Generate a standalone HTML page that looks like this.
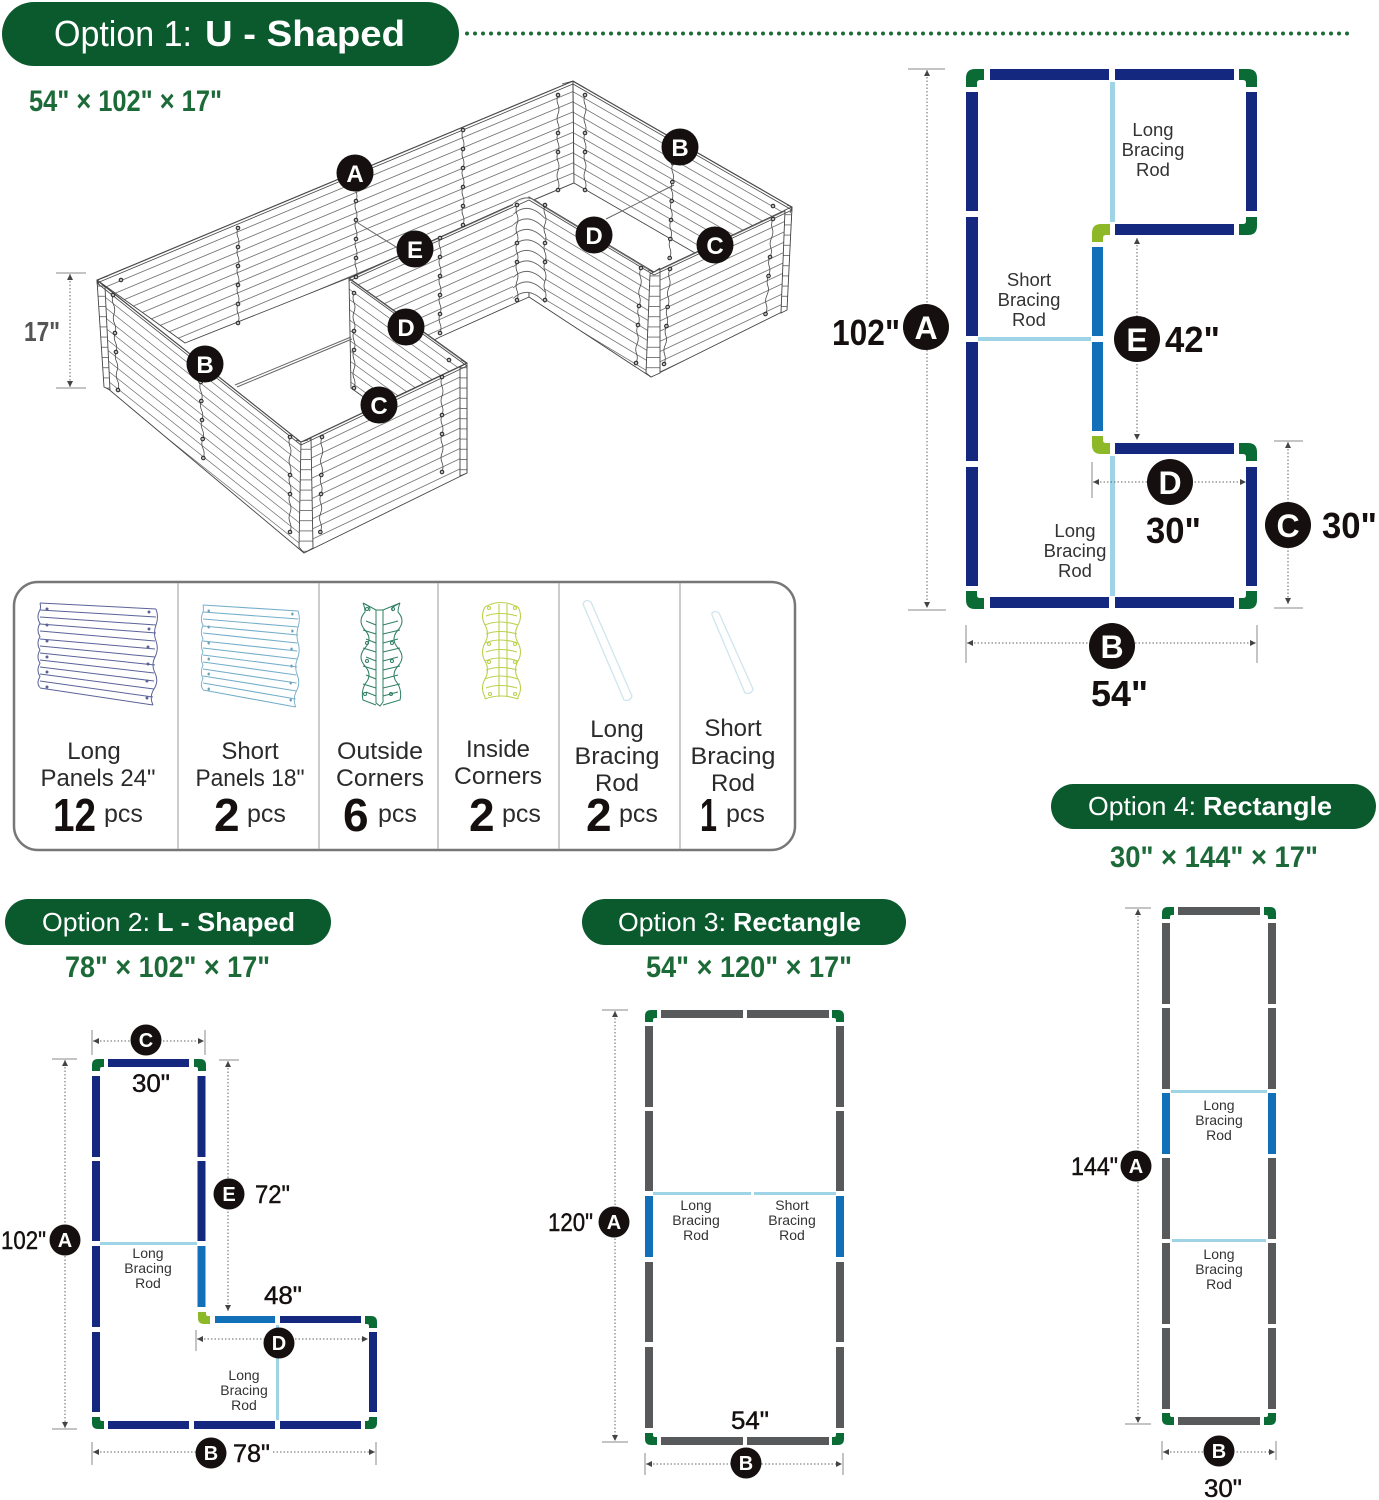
<!DOCTYPE html>
<html><head><meta charset="utf-8"><style>
html,body{margin:0;padding:0;background:#fff}
svg{display:block;font-family:"Liberation Sans",sans-serif}
.dk{fill:#15100f;font-weight:700}
.md{fill:#15100f;stroke:#15100f;stroke-width:.45}
.gt{fill:#1c6a38;font-weight:700}
.lb{fill:#333;text-anchor:middle}
.pt{fill:#2b2b2b;text-anchor:middle;font-size:24px}
.wh{fill:#fff}
.cl{fill:#fff;font-weight:700;text-anchor:middle}
.dim{stroke:#666;stroke-width:1;stroke-dasharray:1.5 2;fill:none}
.tick{stroke:#888;stroke-width:1;fill:none}
.wall{stroke:#444;stroke-width:.9;stroke-linejoin:round}
.j{stroke:#444;stroke-width:.8;fill:none}
.rv{fill:#bbb;stroke:#222;stroke-width:1}
</style></head><body>
<svg width="1379" height="1500" viewBox="0 0 1379 1500" xmlns="http://www.w3.org/2000/svg">
<defs>
<pattern id="pA" patternUnits="userSpaceOnUse" width="12" height="10.2" patternTransform="translate(0 320.5) skewY(-22.7)"><rect width="12" height="10.2" fill="#fff"/><path d="M0 .5H12" stroke="#666" stroke-width=".85"/></pattern>
<pattern id="pB" patternUnits="userSpaceOnUse" width="12" height="10.2" patternTransform="translate(0 203) skewY(38.45)"><rect width="12" height="10.2" fill="#fff"/><path d="M0 .5H12" stroke="#666" stroke-width=".85"/></pattern>
<pattern id="pC" patternUnits="userSpaceOnUse" width="12" height="10.2" patternTransform="translate(0 585.3) skewY(-25.45)"><rect width="12" height="10.2" fill="#fff"/><path d="M0 .5H12" stroke="#666" stroke-width=".85"/></pattern>
<pattern id="pC2" patternUnits="userSpaceOnUse" width="12" height="10.2" patternTransform="translate(0 580) skewY(-25.2)"><rect width="12" height="10.2" fill="#fff"/><path d="M0 .5H12" stroke="#666" stroke-width=".85"/></pattern>
<pattern id="pD" patternUnits="userSpaceOnUse" width="12" height="10.2" patternTransform="translate(0 26.6) skewY(35.8)"><rect width="12" height="10.2" fill="#fff"/><path d="M0 .5H12" stroke="#666" stroke-width=".85"/></pattern>
<pattern id="pE" patternUnits="userSpaceOnUse" width="12" height="10.2" patternTransform="translate(0 435) skewY(-24.2)"><rect width="12" height="10.2" fill="#fff"/><path d="M0 .5H12" stroke="#666" stroke-width=".85"/></pattern>
<pattern id="pF" patternUnits="userSpaceOnUse" width="12" height="10.2" patternTransform="translate(0 -120.4) skewY(31)"><rect width="12" height="10.2" fill="#fff"/><path d="M0 .5H12" stroke="#666" stroke-width=".85"/></pattern>
<pattern id="pG" patternUnits="userSpaceOnUse" width="12" height="10.2" patternTransform="translate(0 -248.5) skewY(29.9)"><rect width="12" height="10.2" fill="#fff"/><path d="M0 .5H12" stroke="#666" stroke-width=".85"/></pattern>
<pattern id="pH" patternUnits="userSpaceOnUse" width="12" height="10.2"><rect width="12" height="10.2" fill="#fff"/><path d="M0 .5H12" stroke="#666" stroke-width=".85"/></pattern>
<marker id="ar" markerWidth="7" markerHeight="7" refX="6" refY="3" orient="auto-start-reverse" markerUnits="userSpaceOnUse"><path d="M0 0L6 3L0 6Z" fill="#444"/></marker>
<path id="wv" d="M0 0q-2 5 0 9.500t0 9.500 0 9.500 0 9.500 0 9.500 0 9.500 0 9.500 0 9.500 0 9.500 0 9.500"/>
<g id="j6"><use href="#wv" class="j"/><g class="rv"><circle r="1.800"/><circle cy="19" r="1.800"/><circle cy="38" r="1.800"/><circle cy="57" r="1.800"/><circle cy="76" r="1.800"/><circle cy="95" r="1.800"/></g></g>
<g id="j4"><use href="#wv" class="j"/><g class="rv"><circle r="1.800"/><circle cy="38" r="1.800"/><circle cy="57" r="1.800"/><circle cy="95" r="1.800"/></g></g>
<path id="cL" d="M0 18V9Q0 0 9 0H18V11H14Q11 11 11 14V18Z"/>
<path id="cM" d="M0 12V6Q0 0 6 0H12V8H10Q8 8 8 10V12Z"/>
<path id="cv" d="M513 204Q528 190 545 208" fill="none" stroke="#666" stroke-width=".85"/>
<g id="panel" fill="none">
<path d="M40 603L156 609M40 610L156 617M40 617L156 625M40 624L156 633M40 631L155 641M40 639L155 649M40 646L155 657M40 653L155 665M40 660L154 673M40 667L154 681M40 674L154 689M40 681L153 697M40 688L153 705"/>
<path d="M40 603q1 4 0 7q-4 7 0 13.300q-4 7 0 13.300q-4 7 0 13.300q-4 7 0 13.300q-4 7 0 13.300q-4 7 0 11"/>
<path d="M156 609q3 8 0 16t0 16 -1 16 0 16 -1 16 -1 16"/>
<circle cx="47" cy="609" r="1" fill="#666"/><circle cx="47" cy="625" r="1" fill="#666"/><circle cx="47" cy="641" r="1" fill="#666"/><circle cx="47" cy="657" r="1" fill="#666"/><circle cx="47" cy="672" r="1" fill="#666"/><circle cx="47" cy="687" r="1" fill="#666"/>
<circle cx="149" cy="612" r="1" fill="#666"/><circle cx="149" cy="629" r="1" fill="#666"/><circle cx="148" cy="647" r="1" fill="#666"/><circle cx="148" cy="664" r="1" fill="#666"/><circle cx="147" cy="681" r="1" fill="#666"/><circle cx="147" cy="698" r="1" fill="#666"/>
</g>
</defs>

<!-- header 1 -->
<rect x="2" y="2" width="457" height="64" rx="32" fill="#0b5a2e"/>
<text x="54" y="46" font-size="36" class="wh" textLength="138" lengthAdjust="spacingAndGlyphs">Option 1:</text>
<text x="205" y="46" font-size="36" class="wh" font-weight="700" textLength="200" lengthAdjust="spacingAndGlyphs">U - Shaped</text>
<path d="M467 33.500H1352" stroke="#1c6a38" stroke-width="4" stroke-linecap="round" stroke-dasharray="0 8"/>
<text x="29" y="111" font-size="30" class="gt" textLength="193" lengthAdjust="spacingAndGlyphs">54" × 102" × 17"</text>

<!-- isometric bed -->
<g class="wall">
<polygon points="97,280 573,81 574,183 351,277 185,343" fill="url(#pA)"/>
<polygon points="573,81 792,207 695,253 574,183" fill="url(#pG)"/>
<polygon points="349,278 529,197 529,297 440,337 432,341 351,300" fill="url(#pE)"/>
<polygon points="529,197 654,272 651,377 529,297" fill="url(#pF)"/>
<polygon points="513,204 528,197 545,208 545,303 528,292 513,300" fill="#fff" stroke="none"/>
<use href="#cv"/><use href="#cv" y="10.500"/><use href="#cv" y="21"/><use href="#cv" y="31.500"/><use href="#cv" y="42"/><use href="#cv" y="52.500"/><use href="#cv" y="63"/><use href="#cv" y="73.500"/><use href="#cv" y="84"/><use href="#cv" y="94.500"/>
<polygon points="654,272 792,207 786,310 651,377" fill="url(#pC2)"/>
<polygon points="349,278 467,363 376,406 351,388" fill="url(#pD)"/>
<polygon points="97,280 301,442 304,553 106,387" fill="url(#pB)"/>
<polygon points="301,442 467,363 467,473 304,553" fill="url(#pC)"/>
<polygon points="97,280 105,287 110,390 104,387" fill="url(#pH)"/>
<polygon points="301,442 311,438 313,548 304,553 299,547" fill="url(#pH)"/>
<polygon points="650,274 654,272 660,269 660,373 651,377 646,373" fill="url(#pH)"/>
<polygon points="460,367 467,363 467,473 460,476" fill="url(#pH)"/>
<polygon points="785,210 792,207 787,310 781,313" fill="url(#pH)"/>
</g>
<g class="j">
<path d="M108 276L97 280L100 286M562 84L573 81L585 88M787 205L792 207L790 213M461 360L467 363M296 440L301 442L308 440M648 270L654 272L660 268"/>
<path d="M97 283L301 445M301 445L467 366M351 282L467 366M654 275L792 210M529 200L654 275M97 283L573 84M573 84L792 210M349 281L529 200"/>
<path d="M358 223L404 252M674 185L606 219M351 337L235 385M352 339L237 387" stroke="#666" stroke-width="1"/>
</g>
<use href="#j6" transform="translate(238 228)"/>
<use href="#j6" transform="translate(356 182)"/>
<use href="#j6" transform="translate(463 130)"/>
<use href="#j4" transform="translate(558 95)"/>
<use href="#j4" transform="translate(585 95)"/>
<use href="#j4" transform="translate(113 295) skewX(3)"/>
<use href="#j6" transform="translate(200 363) skewX(2)"/>
<use href="#j4" transform="translate(290 437)"/>
<use href="#j4" transform="translate(322 437) skewX(-1)"/>
<use href="#j4" transform="translate(442 377)"/>
<use href="#j4" transform="translate(354 293)"/>
<use href="#j6" transform="translate(440 238)"/>
<use href="#j4" transform="translate(517 205)"/>
<use href="#j4" transform="translate(545 205)"/>
<use href="#j4" transform="translate(641 268) skewX(-3)"/>
<use href="#j6" transform="translate(673 163) skewX(-2)"/>
<use href="#j4" transform="translate(670 269) skewX(-3.600)"/>
<use href="#j4" transform="translate(773 219) skewX(-4.500)"/>
<g class="rv"><circle cx="121" cy="280" r="1.800"/><circle cx="773" cy="206" r="1.800"/><circle cx="449" cy="360" r="1.800"/></g>
<g fill="#15100f">
<circle cx="355" cy="173" r="18.500"/><circle cx="680" cy="147" r="18.500"/><circle cx="715" cy="245" r="18.500"/><circle cx="594" cy="235" r="18.500"/><circle cx="415" cy="249" r="18.500"/><circle cx="406" cy="327" r="18.500"/><circle cx="205" cy="364" r="18.500"/><circle cx="379" cy="405" r="18.500"/>
</g>
<g class="cl" font-size="24">
<text x="355" y="182">A</text><text x="680" y="156">B</text><text x="715" y="254">C</text><text x="594" y="244">D</text><text x="415" y="258">E</text><text x="406" y="336">D</text><text x="205" y="373">B</text><text x="379" y="414">C</text>
</g>
<text x="24" y="341" font-size="28" font-weight="700" fill="#555" textLength="36" lengthAdjust="spacingAndGlyphs">17"</text>
<path class="tick" d="M56 273H86M56 388H86"/>
<path class="dim" d="M70 274V387" marker-start="url(#ar)" marker-end="url(#ar)"/>

<!-- parts box -->
<rect x="14" y="582" width="781" height="268" rx="24" fill="#fff" stroke="#777" stroke-width="2.500"/>
<path d="M178 583V849M319 583V849M438 583V849M559 583V849M680 583V849" stroke="#aaa" stroke-width="1.200"/>
<use href="#panel" stroke="#5a6299" stroke-width="1"/>
<use href="#panel" stroke="#74aecb" stroke-width="1.100" transform="translate(170.200 2) scale(.82 1)"/>
<g fill="none" stroke="#2f7f62" stroke-width="1">
<path d="M363 603l7 4-1 0q2 3 0 4M400 603l-7 4q-2 2 0 4"/>
<path d="M363 603q2 5 2 9q-8 9 0 18t0 18 0 18 0 18q-4 8 -2 16l13 5M400 603q-2 5 -2 9q8 9 0 18t0 18 0 18 0 18q4 8 2 16l-17 5"/>
<path d="M363 603l13 7h7l17-7M376 610V703l4 3 3-4V610"/>
<path d="M366 621l10 4M398 621l-15 4M363 630l13 4M400 630l-17 4M366 639l10 4M398 639l-15 4M363 648l13 4M400 648l-17 4M366 657l10 4M398 657l-15 4M363 666l13 4M400 666l-17 4M366 675l10 4M398 675l-15 4M363 684l13 4M400 684l-17 4M366 692l10 4M398 692l-15 4"/>
<circle cx="367" cy="609" r="1.500"/><circle cx="367" cy="643" r="1.500"/><circle cx="367" cy="661" r="1.500"/><circle cx="365" cy="694" r="1.500"/><circle cx="393" cy="609" r="1.500"/><circle cx="392" cy="643" r="1.500"/><circle cx="392" cy="661" r="1.500"/><circle cx="391" cy="694" r="1.500"/>
</g>
<g fill="none" stroke="#bcd14e" stroke-width="1.100">
<path d="M485 607q15-9 33 0"/>
<path d="M485 607q-5 9 0 18t0 18 0 18 0 18 0 18l0 2"/>
<path d="M518 607q5 9 0 18t0 18 0 18 0 18 0 18l0 2"/>
<path d="M485 699q15-6 33 0M499 604V697M507 604V697"/>
<path d="M486 616q13-5 31 0M485 625q14-6 33 0M486 634q13-5 31 0M485 643q14-6 33 0M486 652q13-5 31 0M485 661q14-6 33 0M486 670q13-5 31 0M485 679q14-6 33 0M486 688q13-5 31 0"/>
<circle cx="489" cy="608" r="1.500"/><circle cx="489" cy="644" r="1.500"/><circle cx="489" cy="662" r="1.500"/><circle cx="490" cy="694" r="1.500"/><circle cx="515" cy="608" r="1.500"/><circle cx="515" cy="644" r="1.500"/><circle cx="515" cy="662" r="1.500"/><circle cx="515" cy="694" r="1.500"/>
</g>
<g fill="none" stroke="#cfe6ec" stroke-width="1.300">
<path d="M584 602q3-3 7 0L632 696q-2 6-8 4L583 604z"/>
<path d="M712 613q3-3 7 0L753 689q-2 6-8 4L712 615z"/>
</g>
<g>
<text class="pt" x="94" y="759">Long</text><text class="pt" x="98" y="786" textLength="115" lengthAdjust="spacingAndGlyphs">Panels 24"</text>
<text class="pt" x="250" y="759">Short</text><text class="pt" x="250" y="786" textLength="109" lengthAdjust="spacingAndGlyphs">Panels 18"</text>
<text class="pt" x="380" y="759" textLength="86" lengthAdjust="spacingAndGlyphs">Outside</text><text class="pt" x="380" y="786" textLength="88" lengthAdjust="spacingAndGlyphs">Corners</text>
<text class="pt" x="498" y="757">Inside</text><text class="pt" x="498" y="784" textLength="88" lengthAdjust="spacingAndGlyphs">Corners</text>
<text class="pt" x="617" y="737">Long</text><text class="pt" x="617" y="764" textLength="85" lengthAdjust="spacingAndGlyphs">Bracing</text><text class="pt" x="617" y="791">Rod</text>
<text class="pt" x="733" y="736">Short</text><text class="pt" x="733" y="764" textLength="85" lengthAdjust="spacingAndGlyphs">Bracing</text><text class="pt" x="733" y="791">Rod</text>
</g>
<g class="dk" font-size="46">
<text x="53" y="831" textLength="43" lengthAdjust="spacingAndGlyphs">12</text><text x="214" y="831">2</text><text x="343" y="831">6</text><text x="469" y="831">2</text><text x="586" y="831">2</text><text x="700" y="831" textLength="17" lengthAdjust="spacingAndGlyphs">1</text>
</g>
<g fill="#2b2b2b" font-size="25">
<text x="104" y="822">pcs</text><text x="247" y="822">pcs</text><text x="378" y="822">pcs</text><text x="502" y="822">pcs</text><text x="619" y="822">pcs</text><text x="726" y="822">pcs</text>
</g>

<!-- Diagram 1 -->
<g fill="#14287f">
<rect x="990" y="69" width="119" height="11"/><rect x="1115" y="69" width="119" height="11"/>
<rect x="966" y="92" width="12" height="119"/><rect x="966" y="217" width="12" height="119"/><rect x="966" y="342" width="12" height="119"/><rect x="966" y="467" width="12" height="119"/>
<rect x="1246" y="92" width="11" height="119"/><rect x="1115" y="224" width="119" height="11"/><rect x="1115" y="443" width="119" height="11"/><rect x="1246" y="467" width="11" height="119"/>
<rect x="990" y="597" width="119" height="11"/><rect x="1115" y="597" width="119" height="11"/>
</g>
<g fill="#1270b8"><rect x="1092" y="247" width="11" height="89"/><rect x="1092" y="342" width="11" height="89"/></g>
<g fill="#0b6b35">
<use href="#cL" transform="translate(966 69)"/><use href="#cL" transform="translate(1257 69) scale(-1 1)"/><use href="#cL" transform="translate(1257 235) scale(-1 -1)"/><use href="#cL" transform="translate(1257 443) scale(-1 1)"/><use href="#cL" transform="translate(966 609) scale(1 -1)"/><use href="#cL" transform="translate(1257 609) scale(-1 -1)"/>
</g>
<g fill="#8db928"><use href="#cL" transform="translate(1092 224)"/><use href="#cL" transform="translate(1092 454) scale(1 -1)"/></g>
<g fill="#9fd3e6"><rect x="1110" y="82" width="5" height="140"/><rect x="978" y="337" width="113" height="4"/><rect x="1110" y="456" width="5" height="140"/></g>
<g font-size="18.500" class="lb">
<text x="1153" y="136">Long</text><text x="1153" y="156">Bracing</text><text x="1153" y="176">Rod</text>
<text x="1029" y="286">Short</text><text x="1029" y="306">Bracing</text><text x="1029" y="326">Rod</text>
<text x="1075" y="537">Long</text><text x="1075" y="557">Bracing</text><text x="1075" y="577">Rod</text>
</g>
<path class="tick" d="M908 69H945M908 610H946M1092 462V498M1274 441H1303M1274 608H1303M966 625V663M1257 625V663"/>
<g class="dim" marker-start="url(#ar)" marker-end="url(#ar)">
<path d="M927 70V608" marker-start="url(#ar)" marker-end="url(#ar)"/>
<path d="M1137 238V440" marker-start="url(#ar)" marker-end="url(#ar)"/>
<path d="M1093 482H1246" marker-start="url(#ar)" marker-end="url(#ar)"/>
<path d="M1288 442V604" marker-start="url(#ar)" marker-end="url(#ar)"/>
<path d="M967 643H1256" marker-start="url(#ar)" marker-end="url(#ar)"/>
</g>
<g fill="#15100f"><circle cx="926" cy="327" r="23"/><circle cx="1137" cy="339" r="23"/><circle cx="1170" cy="482" r="23"/><circle cx="1288" cy="525" r="23"/><circle cx="1112" cy="646" r="23"/></g>
<g class="cl" font-size="32"><text x="926" y="339">A</text><text x="1137" y="351">E</text><text x="1170" y="494">D</text><text x="1288" y="537">C</text><text x="1112" y="658">B</text></g>
<g class="dk" font-size="36">
<text x="832" y="345" textLength="68" lengthAdjust="spacingAndGlyphs">102"</text><text x="1165" y="352" textLength="55" lengthAdjust="spacingAndGlyphs">42"</text><text x="1146" y="543" textLength="55" lengthAdjust="spacingAndGlyphs">30"</text><text x="1322" y="538" textLength="55" lengthAdjust="spacingAndGlyphs">30"</text><text x="1091" y="706" textLength="57" lengthAdjust="spacingAndGlyphs">54"</text>
</g>

<!-- Option 4 header -->
<rect x="1051" y="784" width="325" height="45" rx="22.500" fill="#0b5a2e"/>
<text x="1088" y="815" font-size="26" class="wh" textLength="108" lengthAdjust="spacingAndGlyphs">Option 4:</text>
<text x="1203" y="815" font-size="26" class="wh" font-weight="700" textLength="129" lengthAdjust="spacingAndGlyphs">Rectangle</text>
<text x="1110" y="867" font-size="30" class="gt" textLength="208" lengthAdjust="spacingAndGlyphs">30" × 144" × 17"</text>

<!-- Option 2 header -->
<rect x="5" y="899" width="326" height="46" rx="23" fill="#0b5a2e"/>
<text x="42" y="931" font-size="26" class="wh" textLength="108" lengthAdjust="spacingAndGlyphs">Option 2:</text>
<text x="157" y="931" font-size="26" class="wh" font-weight="700" textLength="138" lengthAdjust="spacingAndGlyphs">L - Shaped</text>
<text x="65" y="977" font-size="30" class="gt" textLength="205" lengthAdjust="spacingAndGlyphs">78" × 102" × 17"</text>

<!-- Option 3 header -->
<rect x="582" y="899" width="324" height="46" rx="23" fill="#0b5a2e"/>
<text x="618" y="931" font-size="26" class="wh" textLength="108" lengthAdjust="spacingAndGlyphs">Option 3:</text>
<text x="733" y="931" font-size="26" class="wh" font-weight="700" textLength="128" lengthAdjust="spacingAndGlyphs">Rectangle</text>
<text x="646" y="977" font-size="30" class="gt" textLength="206" lengthAdjust="spacingAndGlyphs">54" × 120" × 17"</text>

<!-- Diagram 2 -->
<g fill="#14287f">
<rect x="108" y="1059" width="81" height="8"/>
<rect x="92" y="1076" width="8" height="81"/><rect x="92" y="1161" width="8" height="80"/><rect x="92" y="1246" width="8" height="81"/><rect x="92" y="1332" width="8" height="80"/>
<rect x="197.500" y="1076" width="8" height="81"/><rect x="197.500" y="1161" width="8" height="80"/>
<rect x="280" y="1316" width="81" height="7"/><rect x="369" y="1332" width="8" height="80"/>
<rect x="108" y="1421" width="81" height="8"/><rect x="194" y="1421" width="81" height="8"/><rect x="280" y="1421" width="81" height="8"/>
</g>
<g fill="#1270b8"><rect x="197.500" y="1246" width="8" height="61"/><rect x="215" y="1316" width="60" height="7"/></g>
<g fill="#0b6b35"><use href="#cM" transform="translate(92 1059)"/><use href="#cM" transform="translate(206 1059) scale(-1 1)"/><use href="#cM" transform="translate(377 1316) scale(-1 1)"/><use href="#cM" transform="translate(92 1429) scale(1 -1)"/><use href="#cM" transform="translate(377 1429) scale(-1 -1)"/></g>
<use href="#cM" fill="#8db928" transform="translate(198 1324) scale(1 -1)"/>
<g fill="#9fd3e6"><rect x="100" y="1242" width="97" height="3"/><rect x="276" y="1325" width="3" height="95"/></g>
<g font-size="14" class="lb">
<text x="148" y="1258">Long</text><text x="148" y="1273">Bracing</text><text x="148" y="1288">Rod</text>
<text x="244" y="1380">Long</text><text x="244" y="1395">Bracing</text><text x="244" y="1410">Rod</text>
</g>
<path class="tick" d="M52 1059H77M52 1429H77M92 1030V1055M205 1030V1055M219 1060H239M196 1330V1351M92 1442V1465M376 1442V1465"/>
<path class="dim" d="M65 1060V1428" marker-start="url(#ar)" marker-end="url(#ar)"/>
<path class="dim" d="M93 1041H204" marker-start="url(#ar)" marker-end="url(#ar)"/>
<path class="dim" d="M228 1061V1311" marker-start="url(#ar)" marker-end="url(#ar)"/>
<path class="dim" d="M197 1339H368" marker-start="url(#ar)" marker-end="url(#ar)"/>
<path class="dim" d="M93 1452H196" marker-start="url(#ar)"/>
<path class="dim" d="M273 1452H375" marker-end="url(#ar)"/>
<g fill="#15100f"><circle cx="65" cy="1240" r="15.500"/><circle cx="146" cy="1040" r="15.500"/><circle cx="229" cy="1194" r="15.500"/><circle cx="279" cy="1343" r="15.500"/><circle cx="211" cy="1453" r="15.500"/></g>
<g class="cl" font-size="20"><text x="65" y="1247">A</text><text x="146" y="1047">C</text><text x="229" y="1201">E</text><text x="279" y="1350">D</text><text x="211" y="1460">B</text></g>
<g class="md" font-size="25">
<text x="1" y="1249" textLength="45" lengthAdjust="spacingAndGlyphs">102"</text><text x="132" y="1092" textLength="38" lengthAdjust="spacingAndGlyphs">30"</text><text x="255" y="1203" textLength="35" lengthAdjust="spacingAndGlyphs">72"</text><text x="264" y="1304" textLength="38" lengthAdjust="spacingAndGlyphs">48"</text><text x="233" y="1462" textLength="37" lengthAdjust="spacingAndGlyphs">78"</text>
</g>

<!-- Diagram 3 -->
<g fill="#58595b">
<rect x="661" y="1010" width="82" height="8"/><rect x="747" y="1010" width="82" height="8"/>
<rect x="645" y="1026" width="8" height="81"/><rect x="645" y="1111" width="8" height="80"/><rect x="645" y="1262" width="8" height="80"/><rect x="645" y="1347" width="8" height="81"/>
<rect x="836" y="1026" width="8" height="81"/><rect x="836" y="1111" width="8" height="80"/><rect x="836" y="1262" width="8" height="80"/><rect x="836" y="1347" width="8" height="81"/>
<rect x="661" y="1437" width="82" height="8"/><rect x="747" y="1437" width="82" height="8"/>
</g>
<g fill="#1270b8"><rect x="645" y="1196" width="8" height="61"/><rect x="836" y="1196" width="8" height="61"/></g>
<g fill="#0b6b35"><use href="#cM" transform="translate(645 1010)"/><use href="#cM" transform="translate(844 1010) scale(-1 1)"/><use href="#cM" transform="translate(645 1445) scale(1 -1)"/><use href="#cM" transform="translate(844 1445) scale(-1 -1)"/></g>
<g fill="#9fd3e6"><rect x="653" y="1192" width="98" height="3"/><rect x="754" y="1192" width="82" height="3"/></g>
<g font-size="14" class="lb">
<text x="696" y="1210">Long</text><text x="696" y="1225">Bracing</text><text x="696" y="1240">Rod</text>
<text x="792" y="1210">Short</text><text x="792" y="1225">Bracing</text><text x="792" y="1240">Rod</text>
</g>
<path class="tick" d="M602 1010H628M602 1442H628M645 1453V1475M843 1453V1475"/>
<path class="dim" d="M615 1011V1441" marker-start="url(#ar)" marker-end="url(#ar)"/>
<path class="dim" d="M646 1464H842" marker-start="url(#ar)" marker-end="url(#ar)"/>
<g fill="#15100f"><circle cx="614" cy="1222" r="15.500"/><circle cx="746" cy="1463" r="15.500"/></g>
<g class="cl" font-size="20"><text x="614" y="1229">A</text><text x="746" y="1470">B</text></g>
<g class="md" font-size="25"><text x="548" y="1231" textLength="45" lengthAdjust="spacingAndGlyphs">120"</text><text x="731" y="1429" textLength="38" lengthAdjust="spacingAndGlyphs">54"</text></g>

<!-- Diagram 4 -->
<g fill="#58595b">
<rect x="1178" y="907" width="82" height="8"/>
<rect x="1162" y="923" width="8" height="81"/><rect x="1162" y="1008" width="8" height="81"/><rect x="1162" y="1158" width="8" height="81"/><rect x="1162" y="1243" width="8" height="81"/><rect x="1162" y="1328" width="8" height="81"/>
<rect x="1268" y="923" width="8" height="81"/><rect x="1268" y="1008" width="8" height="81"/><rect x="1268" y="1158" width="8" height="81"/><rect x="1268" y="1243" width="8" height="81"/><rect x="1268" y="1328" width="8" height="81"/>
<rect x="1178" y="1417" width="82" height="8"/>
</g>
<g fill="#1270b8"><rect x="1162" y="1093" width="8" height="61"/><rect x="1268" y="1093" width="8" height="61"/></g>
<g fill="#0b6b35"><use href="#cM" transform="translate(1162 907)"/><use href="#cM" transform="translate(1276 907) scale(-1 1)"/><use href="#cM" transform="translate(1162 1425) scale(1 -1)"/><use href="#cM" transform="translate(1276 1425) scale(-1 -1)"/></g>
<g fill="#9fd3e6"><rect x="1171" y="1090" width="96" height="3"/><rect x="1172" y="1239" width="94" height="3"/></g>
<g font-size="14" class="lb">
<text x="1219" y="1110">Long</text><text x="1219" y="1125">Bracing</text><text x="1219" y="1140">Rod</text>
<text x="1219" y="1259">Long</text><text x="1219" y="1274">Bracing</text><text x="1219" y="1289">Rod</text>
</g>
<path class="tick" d="M1125 908H1151M1125 1424H1151M1162 1441V1460M1276 1441V1460"/>
<path class="dim" d="M1138 909V1423" marker-start="url(#ar)" marker-end="url(#ar)"/>
<path class="dim" d="M1163 1452H1275" marker-start="url(#ar)" marker-end="url(#ar)"/>
<g fill="#15100f"><circle cx="1136" cy="1166" r="15.500"/><circle cx="1219" cy="1451" r="15.500"/></g>
<g class="cl" font-size="20"><text x="1136" y="1173">A</text><text x="1219" y="1458">B</text></g>
<g class="md" font-size="25"><text x="1071" y="1175" textLength="47" lengthAdjust="spacingAndGlyphs">144"</text><text x="1204" y="1497" textLength="38" lengthAdjust="spacingAndGlyphs">30"</text></g>
</svg>
</body></html>
